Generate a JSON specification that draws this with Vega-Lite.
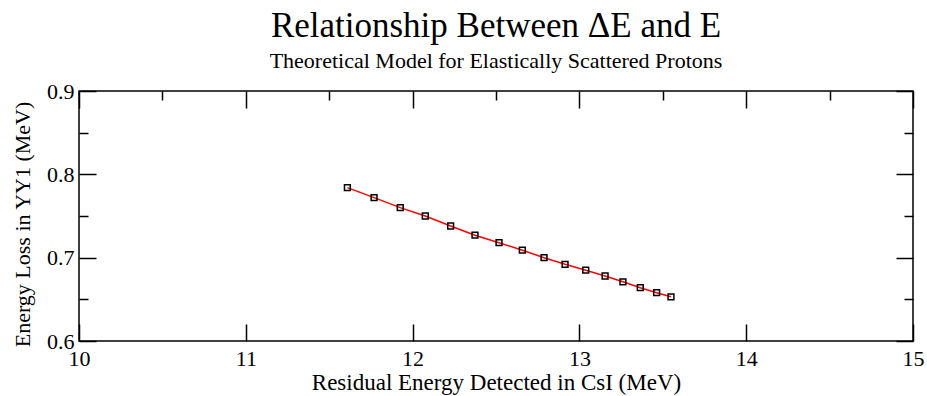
{
  "$schema": "https://vega.github.io/schema/vega-lite/v6.json",
  "width": 834,
  "height": 250,
  "autosize": "none",
  "padding": {"left": 79, "top": 91, "right": 14, "bottom": 55},
  "background": "white",
  "title": {
    "text": "Relationship Between ΔE and E",
    "subtitle": "Theoretical Model for Elastically Scattered Protons",
    "font": "Liberation Serif",
    "fontSize": 35,
    "fontWeight": "normal",
    "color": "black",
    "subtitleFont": "Liberation Serif",
    "subtitleFontSize": 22,
    "subtitleColor": "black",
    "subtitlePadding": 7,
    "anchor": "middle",
    "offset": 8
  },
  "config": {
    "view": {"stroke": "black", "strokeWidth": 1.5},
    "axis": {
      "domain": false,
      "grid": false,
      "labelFont": "Liberation Serif",
      "labelFontSize": 22,
      "labelColor": "black",
      "titleFont": "Liberation Serif",
      "titleFontWeight": "normal",
      "titleColor": "black",
      "tickColor": "black",
      "tickWidth": 1.5
    }
  },
  "data": {
    "values": [
      {"E": 11.609, "dE": 0.784},
      {"E": 11.769, "dE": 0.772},
      {"E": 11.926, "dE": 0.760},
      {"E": 12.076, "dE": 0.750},
      {"E": 12.228, "dE": 0.738},
      {"E": 12.374, "dE": 0.727},
      {"E": 12.518, "dE": 0.718},
      {"E": 12.658, "dE": 0.709},
      {"E": 12.788, "dE": 0.700},
      {"E": 12.914, "dE": 0.692},
      {"E": 13.038, "dE": 0.685},
      {"E": 13.154, "dE": 0.678},
      {"E": 13.261, "dE": 0.671},
      {"E": 13.365, "dE": 0.664},
      {"E": 13.463, "dE": 0.658},
      {"E": 13.549, "dE": 0.653}
    ]
  },
  "layer": [
    {
      "mark": {"type": "line", "color": "red", "strokeWidth": 1.5},
      "encoding": {
        "x": {
          "field": "E", "type": "quantitative",
          "scale": {"domain": [10, 15], "nice": false, "zero": false},
          "axis": {
            "orient": "bottom",
            "title": "Residual Energy Detected in CsI (MeV)",
            "titleFontSize": 23,
            "values": [10, 10.5, 11, 11.5, 12, 12.5, 13, 13.5, 14, 14.5, 15],
            "format": "d",
            "labelExpr": "datum.value % 1 === 0 ? datum.label : ''",
            "tickSize": {"condition": {"test": "datum.value % 1 === 0", "value": -17}, "value": -9},
            "labelPadding": 24,
            "labelFlush": false,
            "titlePadding": 2
          }
        },
        "y": {
          "field": "dE", "type": "quantitative",
          "scale": {"domain": [0.6, 0.9], "nice": false, "zero": false},
          "axis": {
            "orient": "left",
            "title": "Energy Loss in YY1 (MeV)",
            "titleFontSize": 22,
            "titleY": 133,
            "values": [0.6, 0.65, 0.7, 0.75, 0.8, 0.85, 0.9],
            "format": ".1f",
            "labelExpr": "abs(datum.value * 10 - round(datum.value * 10)) < 0.000001 ? datum.label : ''",
            "tickSize": {"condition": {"test": "abs(datum.value * 10 - round(datum.value * 10)) < 0.000001", "value": -17}, "value": -9},
            "labelPadding": 22,
            "labelFlush": false,
            "titlePadding": 12
          }
        }
      }
    },
    {
      "mark": {"type": "point", "shape": "square", "filled": false, "color": "black", "size": 34, "strokeWidth": 1.5, "opacity": 1},
      "encoding": {
        "x": {
          "field": "E", "type": "quantitative",
          "scale": {"domain": [10, 15], "nice": false, "zero": false},
          "axis": {
            "orient": "top",
            "title": null,
            "labels": false,
            "values": [10, 10.5, 11, 11.5, 12, 12.5, 13, 13.5, 14, 14.5, 15],
            "tickSize": {"condition": {"test": "datum.value % 1 === 0", "value": -17}, "value": -9}
          }
        },
        "y": {
          "field": "dE", "type": "quantitative",
          "scale": {"domain": [0.6, 0.9], "nice": false, "zero": false},
          "axis": {
            "orient": "right",
            "title": null,
            "labels": false,
            "values": [0.6, 0.65, 0.7, 0.75, 0.8, 0.85, 0.9],
            "tickSize": {"condition": {"test": "abs(datum.value * 10 - round(datum.value * 10)) < 0.000001", "value": -17}, "value": -9}
          }
        }
      }
    }
  ],
  "resolve": {"axis": {"x": "independent", "y": "independent"}}
}
